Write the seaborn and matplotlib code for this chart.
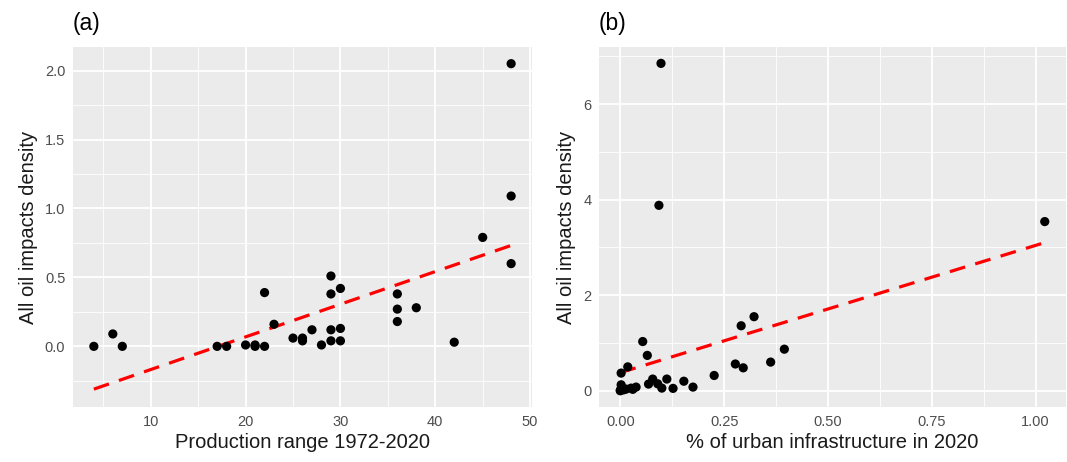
import numpy as np
import pandas as pd
import matplotlib
matplotlib.use("Agg")
import matplotlib.pyplot as plt
from matplotlib.ticker import MultipleLocator, FormatStrFormatter
import seaborn as sns

# panel (a): production range vs impacts density
prod_range = [4, 6, 7, 17, 18, 20, 21, 21, 22, 22, 23, 25, 26, 26, 27, 28,
              29, 29, 29, 29, 30, 30, 30, 36, 36, 36, 38, 42, 45, 48, 48, 48]
density_a = [0.0, 0.09, 0.0, 0.0, 0.0, 0.01, 0.01, 0.0, 0.0, 0.39, 0.16, 0.06, 0.06, 0.04, 0.12, 0.01,
             0.51, 0.38, 0.12, 0.04, 0.42, 0.13, 0.04, 0.38, 0.27, 0.18, 0.28, 0.03, 0.79, 0.60, 1.09, 2.05]

# panel (b): % urban infrastructure vs impacts density (several overlap near zero)
urban_pct = [0.002, 0.018, 0.002, 0.002, 0.0, 0.014, 0.026, 0.038, 0.054, 0.065,
             0.068, 0.078, 0.09, 0.10, 0.112, 0.127, 0.153, 0.175, 0.226, 0.277,
             0.291, 0.296, 0.322, 0.362, 0.395, 0.098, 0.093, 1.022,
             0.0, 0.004, 0.008, 0.03]
density_b = [0.37, 0.50, 0.125, 0.035, 0.01, 0.035, 0.055, 0.077, 1.03, 0.74,
             0.14, 0.245, 0.146, 0.056, 0.245, 0.05, 0.20, 0.077, 0.32, 0.56,
             1.36, 0.48, 1.55, 0.60, 0.87, 6.85, 3.88, 3.54,
             0.0, 0.06, 0.02, 0.03]

df_a = pd.DataFrame({"x": prod_range, "y": density_a})
df_b = pd.DataFrame({"x": urban_pct, "y": density_b})

sns.set_theme(style="darkgrid")
plt.rcParams["font.family"] = ["Liberation Sans", "DejaVu Sans"]

fig = plt.figure(figsize=(10.67, 4.62), dpi=100)
ax1 = fig.add_axes([0.0684, 0.119, 0.4302, 0.779])
ax2 = fig.add_axes([0.5615, 0.119, 0.4375, 0.779])


def gg_style(ax, xmaj, ymaj, xlim, ylim, xfmt, yfmt):
    ax.set_facecolor("#EBEBEB")
    for s in ax.spines.values():
        s.set_visible(False)
    ax.set_xlim(*xlim)
    ax.set_ylim(*ylim)
    ax.xaxis.set_major_locator(MultipleLocator(xmaj))
    ax.xaxis.set_minor_locator(MultipleLocator(xmaj / 2))
    ax.yaxis.set_major_locator(MultipleLocator(ymaj))
    ax.yaxis.set_minor_locator(MultipleLocator(ymaj / 2))
    ax.xaxis.set_major_formatter(FormatStrFormatter(xfmt))
    ax.yaxis.set_major_formatter(FormatStrFormatter(yfmt))
    ax.grid(which="major", color="white", linewidth=1.3)
    ax.grid(which="minor", color="white", linewidth=0.6)
    ax.set_axisbelow(True)
    ax.tick_params(which="major", length=3.5, width=1, color="#333333",
                   labelcolor="#4D4D4D", labelsize=10.5, pad=2)
    ax.tick_params(which="minor", length=0)


for ax, df in [(ax1, df_a), (ax2, df_b)]:
    sns.regplot(data=df, x="x", y="y", ax=ax, scatter=False, ci=None,
                line_kws=dict(color="#FF0000", linewidth=2.3, linestyle=(0, (5, 3.3))))
    sns.scatterplot(data=df, x="x", y="y", ax=ax, color="black", s=44,
                    edgecolor="none", zorder=3)

gg_style(ax1, 10, 0.5, (1.8, 50.2), (-0.44, 2.17), "%d", "%.1f")
gg_style(ax2, 0.25, 2, (-0.051, 1.073), (-0.34, 7.19), "%.2f", "%d")

ax1.set_xlabel("Production range 1972-2020", fontsize=14.5, color="#1A1A1A", labelpad=3)
ax1.set_ylabel("All oil impacts density", fontsize=14.5, color="#1A1A1A", labelpad=5)
ax2.set_xlabel("% of urban infrastructure in 2020", fontsize=14.5, color="#1A1A1A", labelpad=3)
ax2.set_ylabel("All oil impacts density", fontsize=14.5, color="#1A1A1A", labelpad=5)

fig.text(0.0684, 0.95, "(a)", fontsize=16.5, color="black", ha="left", va="center")
fig.text(0.5615, 0.95, "(b)", fontsize=16.5, color="black", ha="left", va="center")

fig.savefig("out.png", dpi=100)
